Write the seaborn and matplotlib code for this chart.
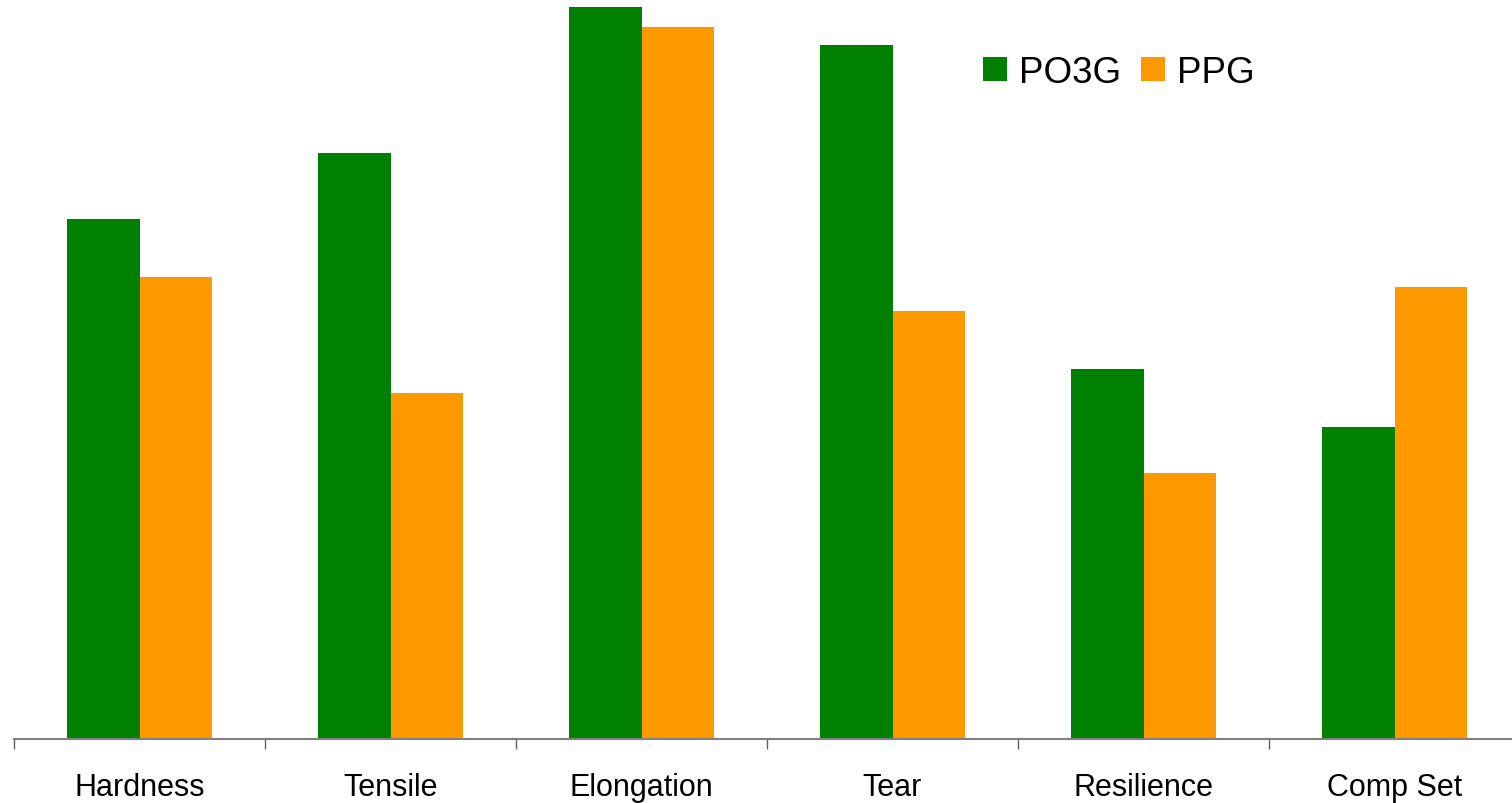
import matplotlib
matplotlib.use("Agg")
import matplotlib.pyplot as plt
from matplotlib.patches import Patch
import numpy as np
import pandas as pd
import seaborn as sns

# Property comparison of PO3G- and PPG-based elastomers (relative scale)
properties = ["Hardness", "Tensile", "Elongation", "Tear", "Resilience", "Comp Set"]
po3g = [520, 586, 732, 694, 370, 312]
ppg = [462, 346, 712, 428, 266, 452]
series = ["PO3G", "PPG"]
colors = {"PO3G": "#008000", "PPG": "#FF9900"}

df = pd.DataFrame({
    "property": properties * 2,
    "value": po3g + ppg,
    "polyol": ["PO3G"] * len(properties) + ["PPG"] * len(properties),
})

sns.set_theme(style="white")
plt.rcParams["font.family"] = ["Liberation Sans", "DejaVu Sans"]
plt.rcParams["text.color"] = "black"

W, H = 1512, 804
fig = plt.figure(figsize=(W / 100, H / 100), dpi=100)
ax = fig.add_axes([14 / W, 1 - 740 / H, 1506 / W, 740 / H])

sns.barplot(data=df, x="property", y="value", hue="polyol", order=properties,
            hue_order=series, palette=colors, width=0.574, gap=0,
            saturation=1, linewidth=0, legend=False, ax=ax)

ax.set_xlim(-0.5, len(properties) - 0.5)
ax.set_ylim(0, 740)
ax.set_xlabel("")
ax.set_ylabel("")
ax.set_yticks([])

for side in ["top", "right", "left"]:
    ax.spines[side].set_visible(False)
ax.spines["bottom"].set_color("#808080")
ax.spines["bottom"].set_linewidth(1.5)

# category boundaries carry the tick marks; labels sit at group centres
ax.set_xticks(np.arange(-0.5, len(properties)), minor=True)
ax.tick_params(axis="x", which="minor", direction="out", length=7.5,
               width=1.0, color="#606060", bottom=True)
ax.tick_params(axis="x", which="major", length=0, pad=23.5, labelsize=22,
               labelcolor="black")

handles = [Patch(facecolor=colors[s], edgecolor="none") for s in series]
leg = fig.legend(handles, series, loc="upper left",
                 bbox_to_anchor=(983 / W, 1 - 56 / H), ncol=2, frameon=False,
                 fontsize=26.5, handlelength=0.65, handleheight=0.65,
                 handletextpad=0.32, columnspacing=0.55, borderpad=0,
                 borderaxespad=0)
for t in leg.get_texts():
    t.set_color("black")

fig.savefig("out.png", dpi=100)
